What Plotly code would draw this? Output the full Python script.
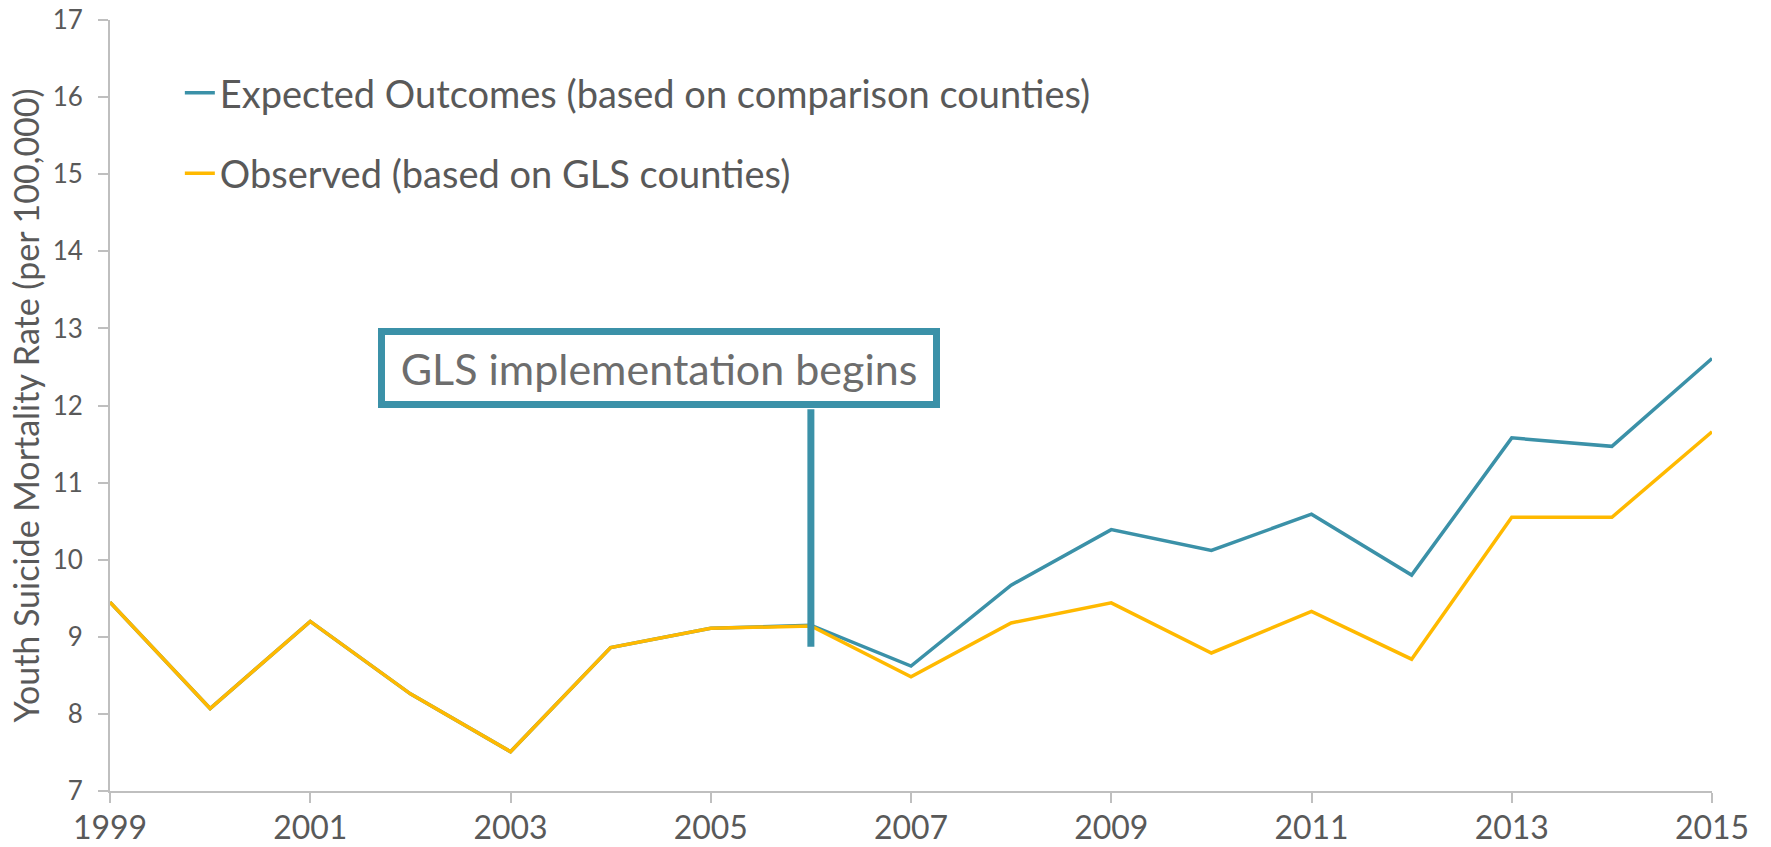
import plotly.graph_objects as go

years = list(range(1999, 2016))
expected = [9.45, 8.07, 9.20, 8.26, 7.51, 8.86, 9.11, 9.15, 8.62, 9.67, 10.39, 10.12, 10.59, 9.80, 11.58, 11.47, 12.61]
observed = [9.45, 8.07, 9.20, 8.26, 7.51, 8.86, 9.11, 9.14, 8.48, 9.18, 9.44, 8.79, 9.33, 8.71, 10.55, 10.55, 11.66]
x_ticks = list(range(1999, 2016, 2))
y_ticks = list(range(7, 18))

TEAL = "#3B91A8"
GOLD = "#FFB900"
GREY = "#595959"
AXIS = "#BFBFBF"
FONT = "Lato"

fig = go.Figure()
fig.add_trace(go.Scatter(x=years, y=expected, mode="lines", name="Expected Outcomes (based on comparison counties)",
                         line=dict(color=TEAL, width=3.5), legendgroup="a"))
fig.add_trace(go.Scatter(x=years, y=observed, mode="lines", name="Observed (based on GLS counties)",
                         line=dict(color=GOLD, width=3.5), legendgroup="b"))

fig.add_shape(type="line", xref="x", yref="y", x0=2006, x1=2006, y0=8.87, y1=11.95,
              line=dict(color=TEAL, width=7))
fig.add_annotation(xref="x", yref="y", x=2004.48, y=12.49, text="GLS implementation begins",
                   showarrow=False, font=dict(family=FONT, size=43, color="#6D6D6D"),
                   bordercolor=TEAL, borderwidth=7, borderpad=6, bgcolor="white",
                   width=536, height=54)
# y-axis title
fig.add_annotation(xref="paper", yref="paper", x=-0.053, y=0.5, xanchor="center", yanchor="middle",
                   text="Youth Suicide Mortality Rate (per 100,000)", textangle=-90, showarrow=False,
                   font=dict(family=FONT, size=34, color=GREY))

fig.update_layout(
    width=1771, height=847,
    margin=dict(l=110, r=59, t=20, b=56),
    paper_bgcolor="white", plot_bgcolor="white",
    font=dict(family=FONT, color=GREY),
    showlegend=True,
    legend=dict(x=0.0436, y=0.946, xanchor="left", yanchor="top",
                font=dict(family=FONT, size=38, color=GREY),
                bgcolor="rgba(0,0,0,0)", tracegroupgap=28, traceorder="grouped"),
    xaxis=dict(range=[1999, 2015], tickvals=x_ticks, ticks="outside", ticklen=10, tickwidth=2,
               tickcolor=AXIS, showline=True, linecolor=AXIS, linewidth=2, showgrid=False,
               zeroline=False, automargin=False, ticklabeloverflow="allow",
               ticklabelstandoff=-2,
               tickfont=dict(family=FONT, size=32, color=GREY)),
    yaxis=dict(range=[7, 17], tickvals=y_ticks, ticks="outside", ticklen=10, tickwidth=2,
               tickcolor=AXIS, showline=True, linecolor=AXIS, linewidth=2, showgrid=False,
               zeroline=False, automargin=False, ticklabeloverflow="allow",
               tickfont=dict(family=FONT, size=26, color=GREY),
               ticklabelstandoff=10),
    xaxis2=dict(range=[1999, 2015], overlaying="x", tickvals=x_ticks, ticks="inside", ticklen=10,
                tickwidth=2, tickcolor=AXIS, showticklabels=False, showgrid=False, zeroline=False,
                showline=False, automargin=False),
    yaxis2=dict(range=[7, 17], overlaying="y", tickvals=y_ticks, ticks="inside", ticklen=10,
                tickwidth=2, tickcolor=AXIS, showticklabels=False, showgrid=False, zeroline=False,
                showline=False, automargin=False),
)

fig.write_html("out.html", config={"displayModeBar": False},
               post_script="document.body.style.margin='0';")
